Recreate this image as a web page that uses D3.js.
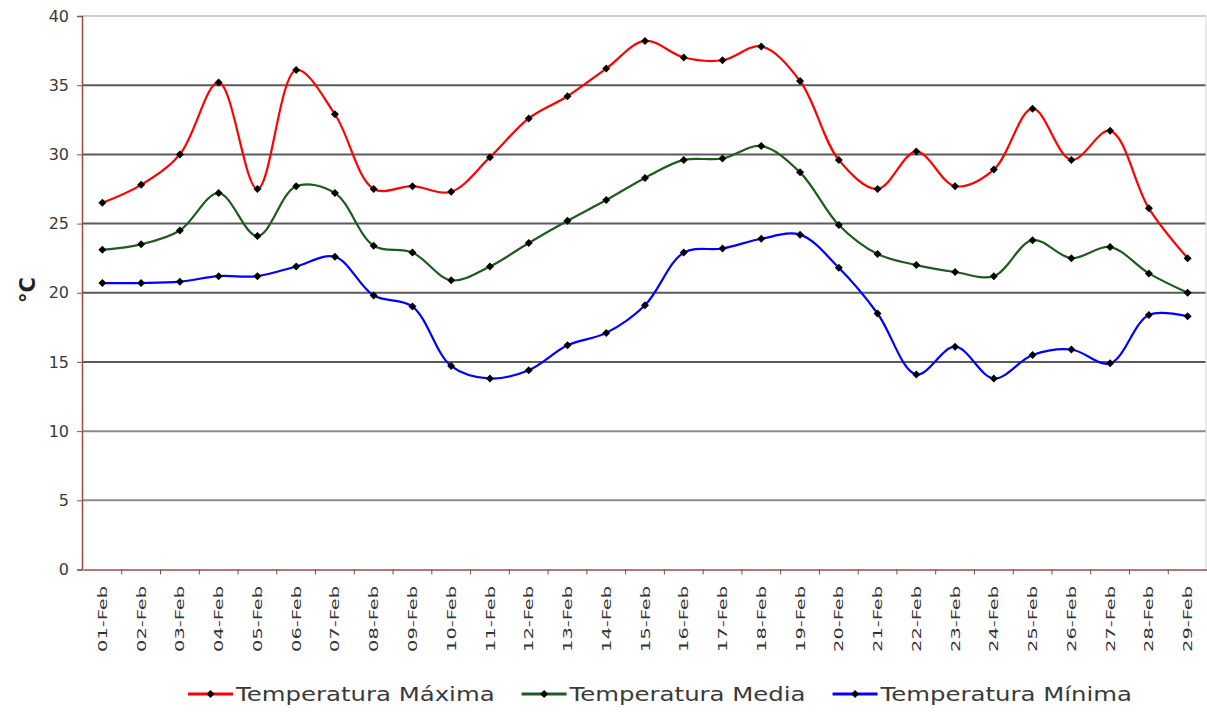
<!DOCTYPE html>
<html>
<head>
<meta charset="utf-8">
<script src="https://cdn.jsdelivr.net/npm/d3@7"></script>
<style>
  body { margin: 0; background: #fff; }
  svg { display: block; }
</style>
</head>
<body>
<div id="chart-area"></div>
<script>
// Data
const dates = ['01-Feb', '02-Feb', '03-Feb', '04-Feb', '05-Feb', '06-Feb', '07-Feb', '08-Feb', '09-Feb', '10-Feb',
    '11-Feb', '12-Feb', '13-Feb', '14-Feb', '15-Feb', '16-Feb', '17-Feb', '18-Feb', '19-Feb', '20-Feb',
    '21-Feb', '22-Feb', '23-Feb', '24-Feb', '25-Feb', '26-Feb', '27-Feb', '28-Feb', '29-Feb'];
const tempMax = [26.5, 27.8, 30.0, 35.2, 27.5, 36.1, 32.9, 27.5, 27.7, 27.3,
    29.8, 32.6, 34.2, 36.2, 38.2, 37.0, 36.8, 37.8, 35.3, 29.6,
    27.5, 30.2, 27.7, 28.9, 33.3, 29.6, 31.7, 26.1, 22.5];
const tempMedia = [23.1, 23.5, 24.5, 27.2, 24.1, 27.7, 27.2, 23.4, 22.9, 20.9,
    21.9, 23.6, 25.2, 26.7, 28.3, 29.6, 29.7, 30.6, 28.7, 24.9,
    22.8, 22.0, 21.5, 21.2, 23.8, 22.5, 23.3, 21.4, 20.0];
const tempMin = [20.7, 20.7, 20.8, 21.2, 21.2, 21.9, 22.6, 19.8, 19.0, 14.7,
    13.8, 14.4, 16.2, 17.1, 19.1, 22.9, 23.2, 23.9, 24.2, 21.8,
    18.5, 14.1, 16.1, 13.8, 15.5, 15.9, 14.9, 18.4, 18.3];
const seriesNames = ['Temperatura Máxima', 'Temperatura Media', 'Temperatura Mínima'];
const yTicks = [0, 5, 10, 15, 20, 25, 30, 35, 40];

// Constants
const W = 1207, H = 718;
const PLOT = { LEFT: 82, RIGHT: 1206, TOP: 16, BOTTOM: 569.5 };
const COLORS = ['#ff0000', '#1f5a1f', '#0000ff'];
const FONT = 'DejaVu Sans, Verdana, sans-serif';

const svg = d3.select('#chart-area')
    .append('svg')
    .attr('width', W)
    .attr('height', H);

const x = d3.scaleBand()
    .domain(dates)
    .range([PLOT.LEFT + 1, PLOT.RIGHT + 1]);

const y = d3.scaleLinear()
    .domain([0, 40])
    .range([PLOT.BOTTOM, PLOT.TOP]);

const cx = d => x(d) + x.bandwidth() / 2;

// Gridlines
svg.append('g')
    .selectAll('line')
    .data(yTicks.filter(t => t > 0))
    .enter().append('line')
    .attr('x1', PLOT.LEFT)
    .attr('x2', PLOT.RIGHT)
    .attr('y1', d => y(d))
    .attr('y2', d => y(d))
    .attr('stroke', d => d === 40 ? '#cfcfcf' : (d <= 10 ? '#8a8a8a' : '#5a5a5a'))
    .attr('stroke-width', 2);

// right border
svg.append('line')
    .attr('x1', PLOT.RIGHT).attr('x2', PLOT.RIGHT)
    .attr('y1', PLOT.TOP).attr('y2', PLOT.BOTTOM)
    .attr('stroke', '#d8d8d8').attr('stroke-width', 1);

// Y axis
const yAxis = svg.append('g')
    .attr('transform', `translate(${PLOT.LEFT}, 0)`)
    .call(d3.axisLeft(y).tickValues(yTicks).tickSize(5).tickPadding(8));
yAxis.select('.domain').attr('stroke', '#9c4a4a').attr('stroke-width', 1.5);
yAxis.selectAll('.tick line').attr('stroke', '#9c4a4a');
yAxis.selectAll('.tick text')
    .attr('font-family', FONT)
    .attr('font-size', 16)
    .attr('fill', '#3a3a3a');

// X axis
const xAxis = svg.append('g')
    .attr('transform', `translate(0, ${PLOT.BOTTOM})`)
    .call(d3.axisBottom(x).tickSize(0).tickFormat(''));
xAxis.select('.domain').attr('stroke', '#9c4a4a').attr('stroke-width', 1.5);

// ticks between categories
svg.append('g')
    .selectAll('line')
    .data(dates.slice(1))
    .enter().append('line')
    .attr('x1', d => x(d))
    .attr('x2', d => x(d))
    .attr('y1', PLOT.BOTTOM)
    .attr('y2', PLOT.BOTTOM + 5)
    .attr('stroke', '#7a4a4a');

// rotated date labels
svg.append('g')
    .selectAll('text')
    .data(dates)
    .enter().append('text')
    .attr('transform', d => `translate(${cx(d)}, 586) rotate(-90) scale(1.49, 1)`)
    .attr('text-anchor', 'end')
    .attr('dy', '0.35em')
    .attr('font-family', FONT)
    .attr('font-size', 13)
    .attr('fill', '#333')
    .text(d => d);

// Y label
svg.append('text')
    .attr('transform', 'translate(35, 290) rotate(-90)')
    .attr('text-anchor', 'middle')
    .attr('font-family', FONT)
    .attr('font-size', 21)
    .attr('font-weight', 'bold')
    .attr('fill', '#222')
    .text('°C');

// Lines
const line = d3.line()
    .x((d, i) => cx(dates[i]))
    .y(d => y(d))
    .curve(d3.curveCatmullRom.alpha(0.5));

const series = [tempMax, tempMedia, tempMin];
const marker = d3.symbol().type(d3.symbolSquare).size(32);

series.forEach((values, k) => {
    svg.append('path')
        .datum(values)
        .attr('fill', 'none')
        .attr('stroke', COLORS[k])
        .attr('stroke-width', 2.2)
        .attr('d', line);

    svg.append('g')
        .selectAll('path')
        .data(values)
        .enter().append('path')
        .attr('d', marker)
        .attr('transform', (d, i) => `translate(${cx(dates[i])}, ${y(d)}) rotate(45)`)
        .attr('fill', '#000');
});

// Legend
const legend = svg.append('g').attr('transform', 'translate(188, 694)');
let lx = 0;
seriesNames.forEach((name, k) => {
    const item = legend.append('g').attr('transform', `translate(${lx}, 0)`);
    item.append('line')
        .attr('x1', 0).attr('x2', 45)
        .attr('stroke', COLORS[k])
        .attr('stroke-width', 3);
    item.append('path')
        .attr('d', marker)
        .attr('transform', 'translate(22.5, 0) rotate(45)')
        .attr('fill', '#000');
    const t = item.append('text')
        .attr('transform', 'translate(48, 0) scale(1.22, 1)')
        .attr('dy', '0.36em')
        .attr('font-family', FONT)
        .attr('font-size', 20)
        .attr('fill', '#3a3a3a')
        .text(name);
    lx += 48 + t.node().getComputedTextLength() * 1.22 + 27;
});
</script>
</body>
</html>
